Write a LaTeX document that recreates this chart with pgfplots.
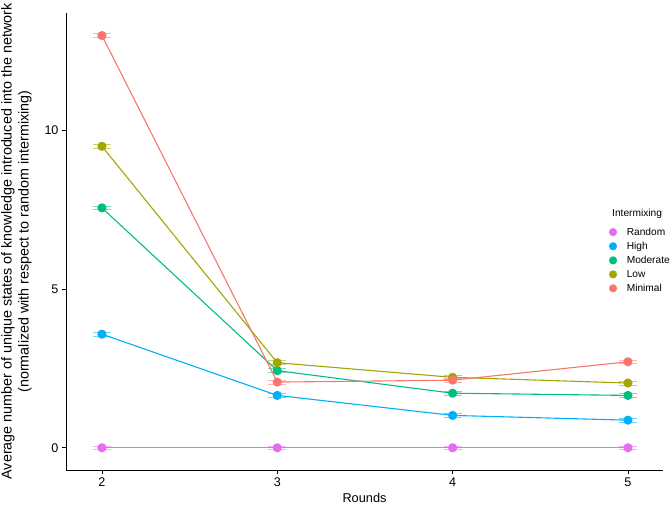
\documentclass[border=0pt]{standalone}
\usepackage{pgfplots}
\pgfplotsset{compat=1.18}
\usepackage{fontspec}
\setmainfont{Liberation Sans}
\definecolor{cRandom}{HTML}{E76BF3}
\definecolor{cHigh}{HTML}{00B0F6}
\definecolor{cModerate}{HTML}{00BF7D}
\definecolor{cLow}{HTML}{A3A500}
\definecolor{cMinimal}{HTML}{F8766D}
\pgfplotstableread{
x y e
2 0 0.06
3 0 0.06
4 0 0.06
5 0 0.06
}\tRandom
\pgfplotstableread{
x y e
2 3.58 0.06
3 1.65 0.06
4 1.02 0.06
5 0.87 0.06
}\tHigh
\pgfplotstableread{
x y e
2 7.56 0.06
3 2.43 0.06
4 1.72 0.06
5 1.65 0.06
}\tModerate
\pgfplotstableread{
x y e
2 9.50 0.06
3 2.68 0.06
4 2.22 0.06
5 2.04 0.06
}\tLow
\pgfplotstableread{
x y e
2 12.99 0.06
3 2.07 0.06
4 2.13 0.06
5 2.71 0.06
}\tMinimal
\pgfplotsset{
  gg/.style={forget plot, color=#1, mark=*, mark size=4bp, line width=1.1bp, mark options={solid},
    error bars/.cd, y dir=both, y explicit, error mark=|,
    error bar style={color=#1, opacity=0.55, line width=0.7bp},
    error mark options={color=#1, opacity=0.55, line width=0.7bp, mark size=9bp},
    /pgfplots/.cd},
  ggleg/.style={color=#1, mark=*, mark size=3.8bp,
    legend image code/.code={\draw[##1] plot coordinates {(0bp,0bp)};}},
}
\begin{document}
\begin{tikzpicture}
\begin{axis}[
  at={(66bp,44bp)}, anchor=south west,
  width=597bp, height=457bp, scale only axis,
  xmin=1.795, xmax=5.2, ymin=-0.70, ymax=13.70,
  axis lines=left, axis line style={-, line width=0.8bp, black},
  xtick={2,3,4,5}, ytick={0,5,10},
  tick align=outside, major tick length=4bp,
  tick style={line width=0.8bp, black},
  /pgf/number format/assume math mode=true,
  ticklabel style={font=\fontsize{12.6}{15}\selectfont},
  xlabel={Rounds},
  xlabel style={font=\fontsize{12.8}{16}\selectfont, at={(axis description cs:0.5,-0.062)}, anchor=center},
  ylabel={Average number of unique states of knowledge introduced into the network\\(normalized with respect to random intermixing)},
  ylabel style={font=\fontsize{14.4}{17}\selectfont, align=center, at={(axis description cs:-0.083,0.5)}, anchor=center},
  legend style={at={(axis description cs:0.9096,0.535)}, anchor=north west, draw=none, fill=none,
    font=\fontsize{10.2}{12}\selectfont, row sep=1.3bp, inner sep=0pt,
    /tikz/every odd column/.append style={column sep=8bp}},
  legend cell align=left,
]
\addplot[gg=cRandom] table[x=x, y=y, y error=e]{\tRandom};
\addplot[gg=cHigh] table[x=x, y=y, y error=e]{\tHigh};
\addplot[gg=cModerate] table[x=x, y=y, y error=e]{\tModerate};
\addplot[gg=cLow] table[x=x, y=y, y error=e]{\tLow};
\addplot[gg=cMinimal] table[x=x, y=y, y error=e]{\tMinimal};
\addlegendimage{ggleg=cRandom}\addlegendentry{Random}
\addlegendimage{ggleg=cHigh}\addlegendentry{High}
\addlegendimage{ggleg=cModerate}\addlegendentry{Moderate}
\addlegendimage{ggleg=cLow}\addlegendentry{Low}
\addlegendimage{ggleg=cMinimal}\addlegendentry{Minimal}
\node[anchor=west, font=\fontsize{10.2}{12}\selectfont, inner sep=0pt] at (axis description cs:0.9146,0.560) {Intermixing};
\end{axis}
\pgfresetboundingbox
\path[use as bounding box] (0,0) rectangle (670bp,514bp);
\end{tikzpicture}
\end{document}
